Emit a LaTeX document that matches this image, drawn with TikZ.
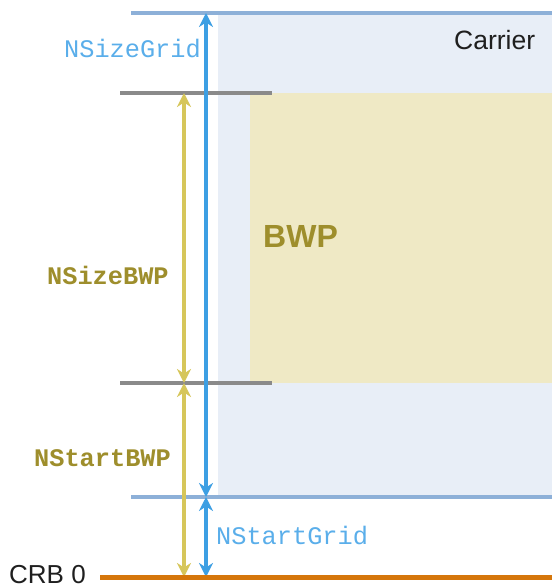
\documentclass[tikz,border=0pt]{standalone}
\usepackage{fontspec}
\setmainfont{Liberation Sans}
\newfontfamily\monof{Liberation Mono}
\usetikzlibrary{arrows.meta}
\definecolor{carrierfill}{HTML}{E8EEF7}
\definecolor{bwpfill}{HTML}{EFE9C5}
\definecolor{gridline}{HTML}{8DB0D8}
\definecolor{bwpline}{HTML}{8A8A8A}
\definecolor{bluearrow}{HTML}{3D9FE3}
\definecolor{yellowarrow}{HTML}{D6C65A}
\definecolor{olivetext}{HTML}{9E8E2C}
\definecolor{bluetext}{HTML}{5AAEEA}
\definecolor{crbline}{HTML}{D5760B}
\tikzset{
  lbl/.style={inner sep=0pt, font=\monof\fontsize{25.3}{30}\selectfont},
  gridln/.style={draw=gridline, line width=4.5pt},
  bwpln/.style={draw=bwpline, line width=4pt},
  tipA/.tip={Stealth[length=14pt,width=14pt,inset=4.5pt]},
  dimarrow/.style={line width=4.5pt, tipA-tipA},
}
\begin{document}
\begin{tikzpicture}[x=1pt,y=-1pt]
\useasboundingbox (0,0) rectangle (552,586);
% carrier region
\fill[carrierfill] (218,13) rectangle (552,497);
\fill[bwpfill] (250,93) rectangle (552,383);
% coordinates
\coordinate (gtL) at (131,13);  \coordinate (gtR) at (552,13);
\coordinate (gbL) at (131,497); \coordinate (gbR) at (552,497);
\coordinate (btL) at (120,93);  \coordinate (btR) at (272,93);
\coordinate (bbL) at (120,383); \coordinate (bbR) at (272,383);
\coordinate (crL) at (100,577); \coordinate (crR) at (552,577);
\coordinate (bT) at (206,13); \coordinate (bM) at (206,497); \coordinate (bB) at (206,577);
\coordinate (yT) at (184,93); \coordinate (yM) at (184,383); \coordinate (yB) at (184,577);
% lines
\draw[gridln] (gtL) -- (gtR);
\draw[gridln] (gbL) -- (gbR);
\draw[bwpln] (btL) -- (btR);
\draw[bwpln] (bbL) -- (bbR);
% arrows
\draw[dimarrow, draw=yellowarrow] (yT) -- (yM);
\draw[dimarrow, draw=yellowarrow] (yM) -- (yB);
\draw[dimarrow, draw=bluearrow] (bT) -- (bM);
\draw[dimarrow, draw=bluearrow] (bM) -- (bB);
\draw[draw=crbline, line width=5pt] (crL) -- (crR);
% labels
\node[lbl, text=bluetext, anchor=base east] (nsg) at (201,58) {NSizeGrid};
\node[lbl, text=olivetext, anchor=base west, font=\monof\bfseries\fontsize{25.3}{30}\selectfont] (nsb) at (47,284) {NSizeBWP};
\node[lbl, text=olivetext, anchor=base west, font=\monof\bfseries\fontsize{25.3}{30}\selectfont] (nstb) at (34,466) {NStartBWP};
\node[lbl, text=bluetext, anchor=base west] (nstg) at (216,544) {NStartGrid};
\node[inner sep=0pt, anchor=base west, font=\fontsize{26}{30}\selectfont, text=black!88] (crb) at (9,583) {CRB 0};
\node[inner sep=0pt, anchor=base west, font=\fontsize{26.5}{30}\selectfont, text=black!88] (car) at (454,50) {Carrier};
\node[inner sep=0pt, anchor=base west, font=\bfseries\fontsize{32}{36}\selectfont, text=olivetext] (bwp) at (263,247) {BWP};
\end{tikzpicture}
\end{document}
